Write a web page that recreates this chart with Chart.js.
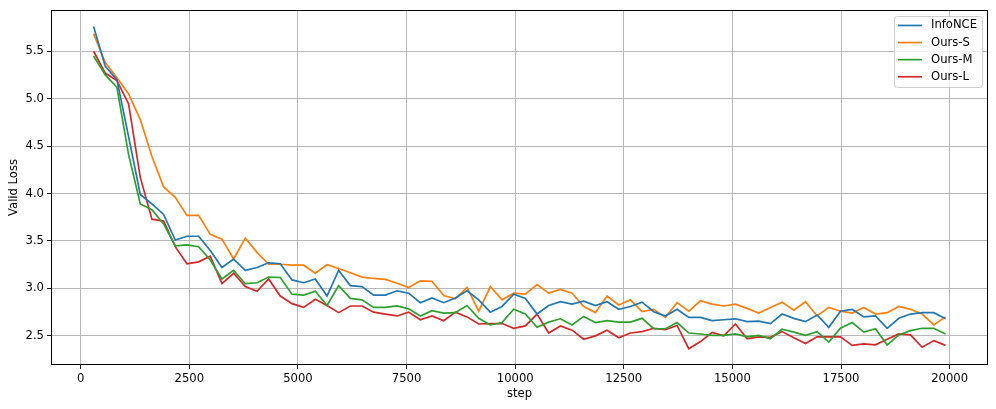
<!DOCTYPE html>
<html>
<head>
<meta charset="utf-8">
<script src="https://cdn.jsdelivr.net/npm/chart.js@4.4.1/dist/chart.umd.min.js"></script>
<style>
  body { margin: 0; background: #fff; }
  canvas { display: block; }
</style>
</head>
<body>
<canvas id="lossChart" width="996" height="409"></canvas>
<script>
// evaluation steps
const steps = [295, 564, 832, 1101, 1370, 1638, 1907, 2175, 2444, 2713, 2981, 3250, 3519, 3787, 4056, 4324,
  4593, 4862, 5130, 5399, 5668, 5936, 6205, 6473, 6742, 7011, 7279, 7548, 7817, 8085, 8354, 8622,
  8891, 9160, 9428, 9697, 9966, 10234, 10503, 10771, 11040, 11309, 11577, 11846, 12115, 12383, 12652,
  12920, 13189, 13458, 13726, 13995, 14264, 14532, 14801, 15069, 15338, 15607, 15875, 16144, 16413,
  16681, 16950, 17218, 17487, 17756, 18024, 18293, 18562, 18830, 19099, 19367, 19636, 19905];

const infoNCE = [5.76, 5.34, 5.20, 4.60, 3.99, 3.89, 3.78, 3.51, 3.55, 3.55, 3.40, 3.22, 3.31, 3.19, 3.22, 3.27,
  3.26, 3.09, 3.06, 3.10, 2.92, 3.19, 3.03, 3.02, 2.93, 2.93, 2.975, 2.95, 2.85, 2.90, 2.85, 2.90,
  2.975, 2.88, 2.75, 2.81, 2.94, 2.895, 2.73, 2.82, 2.86, 2.835, 2.865, 2.82, 2.86, 2.78, 2.81,
  2.855, 2.755, 2.71, 2.78, 2.695, 2.695, 2.66, 2.67, 2.68, 2.65, 2.655, 2.63, 2.73, 2.685,
  2.65, 2.72, 2.59, 2.76, 2.78, 2.70, 2.71, 2.58, 2.685, 2.73, 2.745, 2.745, 2.68];

const oursS = [5.685, 5.38, 5.22, 5.05, 4.78, 4.39, 4.07, 3.96, 3.77, 3.77, 3.57, 3.52, 3.31, 3.53, 3.38, 3.255,
  3.255, 3.245, 3.245, 3.16, 3.25, 3.21, 3.165, 3.12, 3.105, 3.095, 3.055, 3.01, 3.08, 3.075, 2.925, 2.89,
  3.01, 2.76, 3.02, 2.88, 2.95, 2.94, 3.04, 2.95, 2.99, 2.95, 2.81, 2.745, 2.92, 2.825, 2.88,
  2.755, 2.78, 2.695, 2.85, 2.76, 2.87, 2.835, 2.815, 2.835, 2.79, 2.74, 2.80, 2.855, 2.77,
  2.86, 2.71, 2.80, 2.76, 2.74, 2.80, 2.73, 2.745, 2.81, 2.78, 2.73, 2.615, 2.70];

const oursM = [5.45, 5.25, 5.12, 4.41, 3.89, 3.83, 3.68, 3.45, 3.46, 3.44, 3.30, 3.10, 3.19, 3.05, 3.06, 3.12,
  3.115, 2.94, 2.93, 2.97, 2.82, 3.03, 2.895, 2.88, 2.80, 2.80, 2.815, 2.785, 2.71, 2.765, 2.74, 2.745,
  2.82, 2.685, 2.615, 2.64, 2.78, 2.73, 2.59, 2.645, 2.68, 2.615, 2.705, 2.64, 2.66, 2.645, 2.645,
  2.685, 2.575, 2.575, 2.64, 2.53, 2.52, 2.505, 2.505, 2.52, 2.49, 2.505, 2.47, 2.57, 2.54,
  2.505, 2.545, 2.435, 2.58, 2.64, 2.54, 2.575, 2.405, 2.51, 2.555, 2.58, 2.58, 2.52];

const oursL = [5.50, 5.27, 5.19, 4.945, 4.17, 3.73, 3.71, 3.44, 3.26, 3.28, 3.34, 3.05, 3.16, 3.02, 2.97, 3.10,
  2.92, 2.84, 2.80, 2.885, 2.82, 2.745, 2.815, 2.815, 2.75, 2.73, 2.71, 2.75, 2.67, 2.71, 2.66, 2.75,
  2.70, 2.625, 2.63, 2.63, 2.58, 2.605, 2.73, 2.53, 2.605, 2.56, 2.465, 2.50, 2.56, 2.48, 2.53,
  2.545, 2.58, 2.565, 2.61, 2.365, 2.44, 2.535, 2.50, 2.625, 2.47, 2.49, 2.485, 2.545, 2.48,
  2.42, 2.49, 2.49, 2.49, 2.40, 2.415, 2.405, 2.465, 2.52, 2.51, 2.38, 2.45, 2.40];

const seriesNames = ['InfoNCE', 'Ours-S', 'Ours-M', 'Ours-L'];
const seriesColors = ['#1f77b4', '#ff7f0e', '#2ca02c', '#d62728'];
const xTicks = [0, 2500, 5000, 7500, 10000, 12500, 15000, 17500, 20000];
const yTicks = [2.5, 3.0, 3.5, 4.0, 4.5, 5.0, 5.5];

const FONT = 'DejaVu Sans';
const FSIZE = 11.6;

const datasets = [infoNCE, oursS, oursM, oursL].map((vals, i) => ({
    label: seriesNames[i],
    data: steps.map((s, j) => ({ x: s, y: vals[j] })),
    borderColor: seriesColors[i],
    backgroundColor: seriesColors[i],
    borderWidth: 1.7,
    pointRadius: 0,
    tension: 0
}));

// black frame around the plot + matplotlib style legend
const framePlugin = {
    id: 'frame',
    afterDraw(chart) {
        const ctx = chart.ctx;
        const a = chart.chartArea;
        ctx.save();
        ctx.strokeStyle = '#000';
        ctx.lineWidth = 1;
        ctx.strokeRect(Math.round(a.left) + 0.5, Math.round(a.top) + 0.5,
            Math.round(a.right - a.left) - 1, Math.round(a.bottom - a.top) - 1);

        // legend box
        const bx = a.right - 94, by = a.top + 6, bw = 88, bh = 71;
        ctx.beginPath();
        ctx.roundRect(bx + 0.5, by + 0.5, bw, bh, 3);
        ctx.fillStyle = 'rgba(255,255,255,0.8)';
        ctx.fill();
        ctx.strokeStyle = '#cccccc';
        ctx.stroke();

        ctx.font = FSIZE + 'px "' + FONT + '"';
        ctx.textBaseline = 'middle';
        ctx.textAlign = 'left';
        seriesNames.forEach((name, i) => {
            const ry = by + 9.5 + i * 17.1;
            ctx.beginPath();
            ctx.moveTo(bx + 4, ry);
            ctx.lineTo(bx + 28, ry);
            ctx.strokeStyle = seriesColors[i];
            ctx.lineWidth = 1.7;
            ctx.stroke();
            ctx.fillStyle = '#000';
            ctx.fillText(name, bx + 37, ry);
        });
        ctx.restore();
    }
};

new Chart(document.getElementById('lossChart'), {
    type: 'line',
    data: { datasets: datasets },
    options: {
        responsive: false,
        animation: false,
        devicePixelRatio: 1,
        layout: { padding: { left: 0, right: 8, top: 8, bottom: 0 } },
        plugins: {
            legend: { display: false },
            tooltip: { enabled: false }
        },
        scales: {
            x: {
                type: 'linear',
                min: -685,
                max: 20883,
                afterBuildTicks: (scale) => { scale.ticks = xTicks.map(v => ({ value: v })); },
                afterFit: (scale) => { scale.height = 44; },
                grid: { color: '#b0b0b0', lineWidth: 0.9, tickLength: 4, tickColor: '#000' },
                border: { display: false },
                ticks: {
                    color: '#000',
                    padding: 3,
                    maxRotation: 0,
                    font: { family: FONT, size: FSIZE },
                    callback: (v) => String(v)
                },
                title: {
                    display: true,
                    text: 'step',
                    color: '#000',
                    font: { family: FONT, size: FSIZE },
                    padding: { top: 0, bottom: 8 }
                }
            },
            y: {
                min: 2.193,
                max: 5.935,
                afterBuildTicks: (scale) => { scale.ticks = yTicks.map(v => ({ value: v })); },
                afterFit: (scale) => { scale.width = 51; },
                grid: { color: '#b0b0b0', lineWidth: 0.9, tickLength: 4, tickColor: '#000' },
                border: { display: false },
                ticks: {
                    color: '#000',
                    padding: 3,
                    font: { family: FONT, size: FSIZE },
                    callback: (v) => v.toFixed(1)
                },
                title: {
                    display: true,
                    text: 'Valid Loss',
                    color: '#000',
                    font: { family: FONT, size: FSIZE },
                    padding: { top: 7, bottom: 0 }
                }
            }
        }
    },
    plugins: [framePlugin]
});
</script>
</body>
</html>
